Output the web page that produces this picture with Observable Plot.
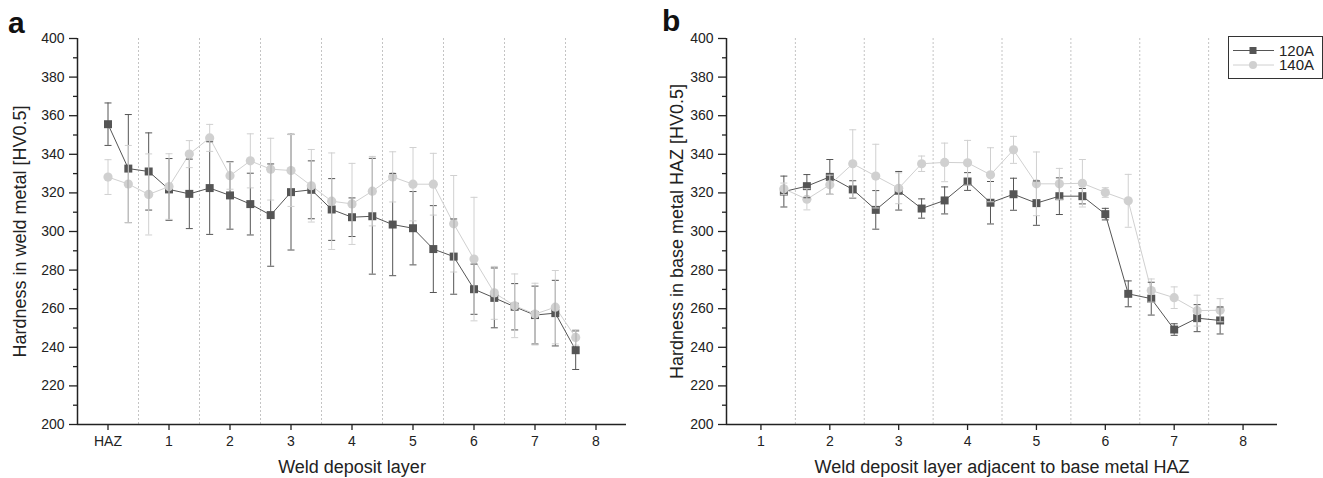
<!DOCTYPE html>
<html>
<head>
<meta charset="utf-8">
<script src="https://cdn.jsdelivr.net/npm/d3@7"></script>
<script src="https://cdn.jsdelivr.net/npm/@observablehq/plot@0.6"></script>
<style>
  body { margin: 0; background: white; font-family: "Liberation Sans", Arial, sans-serif; }
  #wrap { position: relative; width: 1323px; height: 478px; overflow: hidden; }
  #row { display: flex; }
  .plabel { position: absolute; font-weight: bold; font-size: 30px; color: #111; line-height: 1; }
  #legend { position: absolute; left: 1228px; top: 36px; width: 93px; height: 41px; border: 1px solid #333; background: white; }
</style>
</head>
<body>
<div id="wrap">
  <div id="row"></div>
  <div class="plabel" style="left:8px; top:8px;">a</div>
  <div class="plabel" style="left:662px; top:6px;">b</div>
  <div id="legend"></div>
</div>
<script>
// ---------- data ----------
const seriesNames = ["120A", "140A"];

// Panel a: positions along weld deposit layers (HAZ = 0)
const posA = [0, 0.333, 0.667, 1, 1.333, 1.667, 2, 2.333, 2.667, 3, 3.333, 3.667, 4, 4.333, 4.667, 5, 5.333, 5.667, 6, 6.333, 6.667, 7, 7.333, 7.667];
const meanA120 = [355.6, 332.6, 331.1, 321.8, 319.5, 322.5, 318.7, 314.2, 308.5, 320.4, 321.6, 311.4, 307.4, 307.9, 303.6, 301.7, 290.9, 287.0, 270.1, 265.6, 261.0, 256.7, 257.7, 238.5];
const errA120  = [11, 28, 20, 16, 18, 24, 17.5, 16, 26.5, 30, 15, 16, 10, 30, 26.5, 19, 22.5, 19.5, 13, 15.5, 12, 15, 17, 10];
const meanA140 = [328.2, 324.6, 319.2, 323.3, 340.1, 348.5, 328.9, 336.6, 332.3, 331.6, 323.7, 315.7, 314.3, 320.9, 328.3, 324.5, 324.5, 304.0, 285.7, 268.2, 261.5, 257.2, 260.8, 245.1];
const errA140  = [9, 20, 21, 17, 7, 7, 7, 14, 16, 18.6, 18.8, 25, 21, 18, 13, 19, 16, 25, 32, 13.7, 16.5, 16, 19, 4];

// Panel b
const posB = [1.333, 1.667, 2, 2.333, 2.667, 3, 3.333, 3.667, 4, 4.333, 4.667, 5, 5.333, 5.667, 6, 6.333, 6.667, 7, 7.333, 7.667];
const meanB120 = [320.7, 323.5, 328.3, 321.8, 311.2, 321.1, 311.9, 316.1, 325.9, 314.9, 319.3, 314.7, 318.3, 318.3, 309.0, 267.7, 265.2, 249.2, 255.1, 253.9];
const errB120  = [8, 6, 9, 4.5, 10, 10, 5, 7, 4.6, 11, 8.3, 11.5, 9.5, 4, 3, 6.7, 8.5, 3, 7, 7];
const meanB140 = [322.1, 316.7, 324.2, 335.1, 328.7, 322.4, 335.1, 335.8, 335.6, 329.4, 342.3, 324.7, 324.7, 325.0, 320.2, 315.9, 269.4, 265.7, 259.0, 259.2];
const errB140  = [3, 5.5, 5, 17.6, 16.5, 8, 4, 10, 11.6, 14, 7, 16.5, 8, 12.3, 2.5, 13.7, 6, 5.6, 8, 6];

// ticks / labels
const yTicks = [200, 220, 240, 260, 280, 300, 320, 340, 360, 380, 400];
const yMinorTicks = [210, 230, 250, 270, 290, 310, 330, 350, 370, 390];
const xTicksA = [0, 1, 2, 3, 4, 5, 6, 7, 8];
const xTickLabelsA = ["HAZ", "1", "2", "3", "4", "5", "6", "7", "8"];
const xTicksB = [1, 2, 3, 4, 5, 6, 7, 8];
const xTickLabelsB = ["1", "2", "3", "4", "5", "6", "7", "8"];
const dividersA = [0.5, 1.5, 2.5, 3.5, 4.5, 5.5, 6.5, 7.5];
const dividersB = [1.5, 2.5, 3.5, 4.5, 5.5, 6.5, 7.5];

// ---------- style ----------
const C120 = "#555555", C140 = "#d0d0d0";
const AX = "#222";
const FONT = "Liberation Sans, Arial, sans-serif";
const cap = { draw(ctx) { ctx.moveTo(-3.5, 0); ctx.lineTo(3.5, 0); } };

function rows(pos, mean, err) {
  return pos.map((x, i) => ({ x, y: mean[i], lo: mean[i] - err[i], hi: mean[i] + err[i] }));
}

function panel(o) {
  const d1 = rows(o.pos, o.m1, o.e1), d2 = rows(o.pos, o.m2, o.e2);
  const bars = (d, c) => [
    Plot.ruleX(d, { x: "x", y1: "lo", y2: "hi", stroke: c, strokeWidth: 1 }),
    Plot.dot(d, { x: "x", y: "lo", symbol: cap, stroke: c, fill: "none", strokeWidth: 1 }),
    Plot.dot(d, { x: "x", y: "hi", symbol: cap, stroke: c, fill: "none", strokeWidth: 1 })
  ];
  return Plot.plot({
    width: o.width, height: 478,
    marginLeft: o.ml, marginRight: o.mr, marginTop: 38, marginBottom: 54,
    style: { fontFamily: FONT, fontSize: "14px", color: AX, background: "white" },
    x: { domain: o.xDomain },
    y: { domain: [200, 400] },
    marks: [
      Plot.ruleX(o.dividers, { stroke: "#c4c4c4", strokeDasharray: "2,2", strokeWidth: 1 }),
      Plot.line(d1, { x: "x", y: "y", stroke: C120, strokeWidth: 1 }),
      Plot.line(d2, { x: "x", y: "y", stroke: C140, strokeWidth: 1 }),
      Plot.dot(d1, { x: "x", y: "y", symbol: "square", r: 4.5, fill: C120, stroke: "none" }),
      Plot.dot(d2, { x: "x", y: "y", symbol: "circle", r: 4.6, fill: C140, stroke: "none" }),
      ...bars(d1, C120),
      ...bars(d2, C140),
      Plot.axisY({ ticks: yTicks, tickSize: 8, tickPadding: 5, fontSize: 14, stroke: AX, strokeWidth: 1.3, label: null }),
      Plot.axisY({ ticks: yMinorTicks, tickSize: 4, tickFormat: () => "", stroke: AX, strokeWidth: 1.3, label: null }),
      Plot.axisX({ ticks: o.xTicks, tickFormat: (d, i) => o.xLabels[i], tickSize: 6, tickPadding: 6, fontSize: 14, stroke: AX, strokeWidth: 1.3, label: null }),
      Plot.ruleX([o.xDomain[0]], { stroke: AX, strokeWidth: 1.5 }),
      Plot.ruleY([200], { stroke: AX, strokeWidth: 1.5 }),
      Plot.text([o.xlabel], { frameAnchor: "bottom", dy: 43, fontSize: 18, fill: AX, lineAnchor: "middle", textAnchor: "middle" }),
      Plot.text([o.ylabel], { frameAnchor: "left", dx: o.ydx, rotate: -90, fontSize: 18, fill: AX, lineAnchor: "middle", textAnchor: "middle" })
    ]
  });
}

const row = document.getElementById("row");
row.appendChild(panel({
  width: 661, ml: 77, mr: 35, xDomain: [-0.5, 8.5],
  pos: posA, m1: meanA120, e1: errA120, m2: meanA140, e2: errA140,
  xTicks: xTicksA, xLabels: xTickLabelsA, dividers: dividersA,
  xlabel: "Weld deposit layer", ylabel: "Hardness in weld metal [HV0.5]", ydx: -57
}));
row.appendChild(panel({
  width: 662, ml: 65, mr: 46, xDomain: [0.5, 8.5],
  pos: posB, m1: meanB120, e1: errB120, m2: meanB140, e2: errB140,
  xTicks: xTicksB, xLabels: xTickLabelsB, dividers: dividersB,
  xlabel: "Weld deposit layer adjacent to base metal HAZ", ylabel: "Hardness in base metal HAZ [HV0.5]", ydx: -49
}));

// legend
const lg = d3.select("#legend").append("svg").attr("width", 93).attr("height", 41);
[[seriesNames[0], C120, "square"], [seriesNames[1], C140, "circle"]].forEach(([name, c, sym], i) => {
  const y = 13.5 + i * 14.5;
  lg.append("line").attr("x1", 4).attr("x2", 45).attr("y1", y).attr("y2", y).attr("stroke", c).attr("stroke-width", 1);
  if (sym === "square") lg.append("rect").attr("x", 24 - 3.5).attr("y", y - 3.5).attr("width", 7).attr("height", 7).attr("fill", c);
  else lg.append("circle").attr("cx", 24).attr("cy", y).attr("r", 4).attr("fill", c);
  lg.append("text").attr("x", 50).attr("y", y).attr("dy", "0.36em").attr("font-size", 15).attr("font-family", FONT).attr("fill", AX).text(name);
});
</script>
</body>
</html>
